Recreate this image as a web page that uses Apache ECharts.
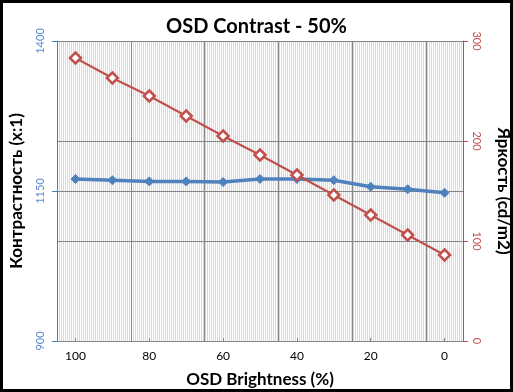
<!DOCTYPE html>
<html><head><meta charset="utf-8">
<script src="https://cdn.jsdelivr.net/npm/echarts@6/dist/echarts.min.js"></script>
<style>html,body{margin:0;padding:0;background:#fff}#c{width:513px;height:392px}</style>
</head><body><div id="c"></div>
<script>
const categories = ['100','90','80','70','60','50','40','30','20','10','0'];
const contrast = [1170, 1168, 1166, 1166, 1165, 1170, 1170, 1168, 1157, 1153, 1147];
const brightness = [283, 263, 245, 225, 205, 186, 166, 146, 126, 106, 86];
const titleText = 'OSD Contrast - 50%';
const xName = 'OSD Brightness (%)';
const yLeftName = 'Контрастность (x:1)';
const yRightName = 'Яркость (cd/m2)';

const FONT = 'Lato';
const chart = echarts.init(document.getElementById('c'), null, {renderer:'canvas'});
chart.setOption({
  animation: false,
  backgroundColor: '#fff',
  textStyle: {fontFamily: FONT},
  title: {text: titleText, left: 'center', top: 12, textStyle: {fontFamily: FONT, fontSize: 20, fontWeight: 'bold', color: '#000'}},
  grid: {left: 57, right: 50, top: 41, bottom: 51, containLabel: false, outerBoundsMode: 'none'},
  xAxis: [
    {type: 'value', min: 0, max: 406, interval: 2, z: 0, position: 'top',
     axisLine: {show: false}, axisTick: {show: false}, axisLabel: {show: false},
     splitLine: {show: true, lineStyle: {color: '#d9d9d9', width: 1}}},
    {type: 'category', data: categories, boundaryGap: true, z: 1, position: 'bottom',
     axisLine: {lineStyle: {color: '#868686', width: 1}},
     axisTick: {show: true, inside: true, length: 3, alignWithLabel: true, lineStyle: {color: '#868686'}},
     axisLabel: {interval: 1, color: '#000', fontSize: 12, margin: 9, fontFamily: FONT},
     splitLine: {show: true, lineStyle: {color: '#868686', width: 1}},
     name: xName, nameLocation: 'middle', nameGap: 30,
     nameTextStyle: {fontSize: 17, fontWeight: 'bold', color: '#000', fontFamily: FONT}}
  ],
  yAxis: [
    {type: 'value', min: 900, max: 1400, interval: 250, z: 1,
     axisLine: {show: true, lineStyle: {color: '#4a7ebb', width: 1}},
     axisTick: {show: true, length: 5, lineStyle: {color: '#4a7ebb'}},
     axisLabel: {rotate: 90, color: '#5b8ad2', fontSize: 11, margin: 11, fontFamily: FONT, formatter: v => String(v)},
     splitLine: {show: true, lineStyle: {color: '#868686', width: 1}},
     name: yLeftName, nameLocation: 'middle', nameGap: 32, nameRotate: 90,
     nameTextStyle: {fontSize: 17, fontWeight: 'bold', color: '#000', fontFamily: FONT}},
    {type: 'value', min: 0, max: 300, interval: 100, position: 'right', z: 1,
     axisLine: {show: true, lineStyle: {color: '#be4b48', width: 1}},
     axisTick: {show: true, length: 5, lineStyle: {color: '#be4b48'}},
     axisLabel: {rotate: -90, color: '#c0504d', fontSize: 11, margin: 8, fontFamily: FONT, formatter: v => String(v)},
     splitLine: {show: true, lineStyle: {color: '#868686', width: 1}},
     name: yRightName, nameLocation: 'middle', nameGap: 32, nameRotate: -90,
     nameTextStyle: {fontSize: 17, fontWeight: 'bold', color: '#000', fontFamily: FONT}}
  ],
  series: [
    {type: 'line', name: yLeftName, xAxisIndex: 1, yAxisIndex: 0, data: contrast, z: 3,
     symbol: 'diamond', symbolSize: 9,
     lineStyle: {color: '#4f81bd', width: 3.5}, itemStyle: {color: '#4f81bd', borderColor: '#4f81bd', borderWidth: 1}},
    {type: 'line', name: yRightName, xAxisIndex: 1, yAxisIndex: 1, data: brightness, z: 4,
     symbol: 'diamond', symbolSize: 11, showAllSymbol: true,
     lineStyle: {color: '#c0504d', width: 2}, itemStyle: {color: '#fff', borderColor: '#c0504d', borderWidth: 2.5}}
  ],
  graphic: [
    {type: 'rect', silent: true, z: 100, shape: {x: 1.5, y: 1.5, width: 510, height: 389},
     style: {fill: null, stroke: '#000', lineWidth: 3}}
  ]
});
</script></body></html>
